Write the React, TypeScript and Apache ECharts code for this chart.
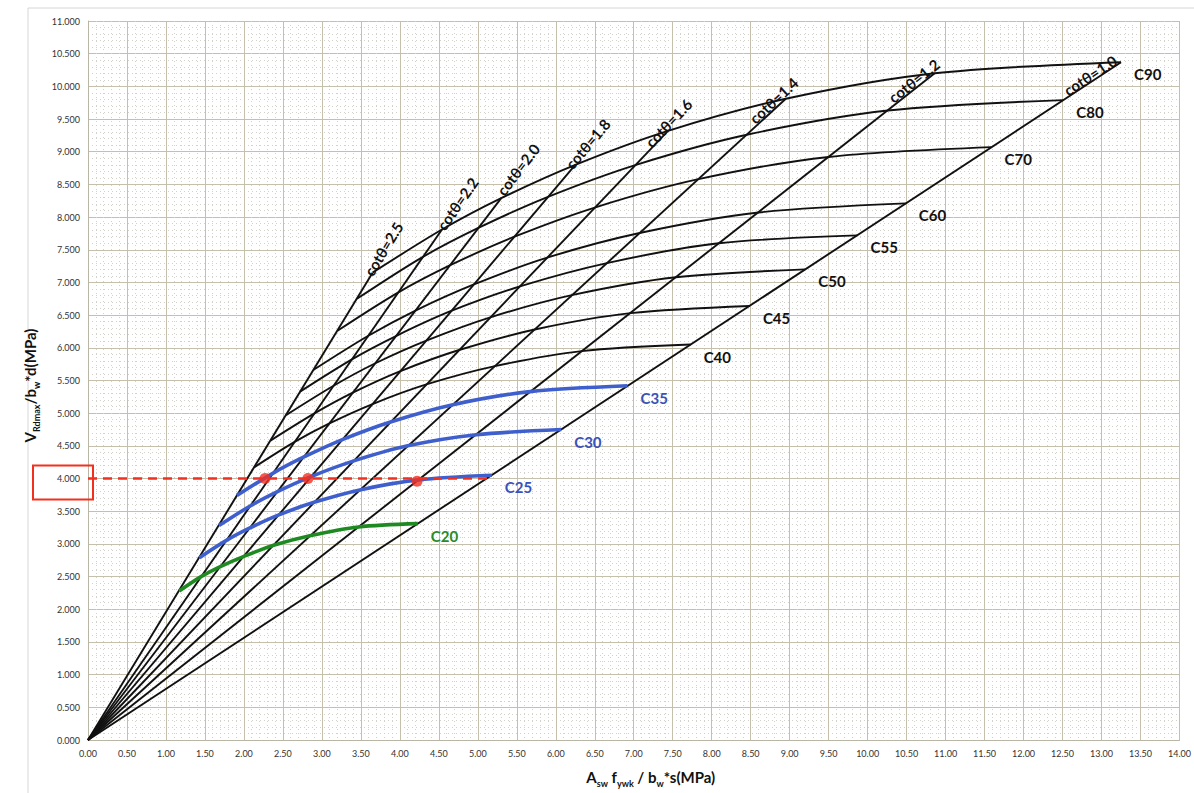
import React, { useEffect, useRef } from "react";
import * as echarts from "echarts";

// cotθ values of the strut-angle lines (left to right along each curve)
const cotThetaValues = [2.5, 2.2, 2.0, 1.8, 1.6, 1.4, 1.2, 1.0];
const cotThetaLabels = ["cotθ=2.5", "cotθ=2.2", "cotθ=2.0", "cotθ=1.8", "cotθ=1.6", "cotθ=1.4", "cotθ=1.2", "cotθ=1.0"];

// concrete class curves: x = Asw fywk/(bw s), y = VRdmax/(bw d), points at cotθ = 2.5 ... 1.0
const c20X = [1.17, 1.45, 1.69, 2.0, 2.38, 2.86, 3.47, 4.23];
const c20Y = [2.28, 2.5, 2.65, 2.81, 2.98, 3.13, 3.26, 3.31];
const c25X = [1.43, 1.77, 2.07, 2.44, 2.91, 3.5, 4.24, 5.18];
const c25Y = [2.79, 3.05, 3.24, 3.44, 3.64, 3.83, 3.98, 4.05];
const c30X = [1.68, 2.08, 2.43, 2.86, 3.41, 4.1, 4.98, 6.07];
const c30Y = [3.28, 3.58, 3.8, 4.03, 4.27, 4.5, 4.67, 4.75];
const c35X = [1.91, 2.37, 2.77, 3.27, 3.89, 4.68, 5.67, 6.92];
const c35Y = [3.74, 4.08, 4.33, 4.6, 4.87, 5.13, 5.33, 5.42];
const c40X = [2.13, 2.65, 3.09, 3.65, 4.34, 5.22, 6.33, 7.73];
const c40Y = [4.17, 4.56, 4.84, 5.14, 5.44, 5.72, 5.95, 6.05];
const c45X = [2.34, 2.91, 3.39, 4.0, 4.77, 5.73, 6.96, 8.49];
const c45Y = [4.58, 5.0, 5.31, 5.64, 5.97, 6.28, 6.53, 6.64];
const c50X = [2.54, 3.15, 3.68, 4.34, 5.17, 6.22, 7.54, 9.2];
const c50Y = [4.97, 5.42, 5.76, 6.11, 6.47, 6.81, 7.08, 7.2];
const c55X = [2.72, 3.38, 3.95, 4.65, 5.54, 6.67, 8.09, 9.87];
const c55Y = [5.33, 5.82, 6.18, 6.56, 6.94, 7.3, 7.6, 7.72];
const c60X = [2.89, 3.59, 4.2, 4.95, 5.89, 7.09, 8.6, 10.49];
const c60Y = [5.66, 6.18, 6.57, 6.97, 7.38, 7.76, 8.07, 8.21];
const c70X = [3.2, 3.97, 4.64, 5.47, 6.51, 7.83, 9.5, 11.59];
const c70Y = [6.26, 6.84, 7.26, 7.7, 8.15, 8.58, 8.92, 9.07];
const c80X = [3.45, 4.28, 5.0, 5.9, 7.03, 8.45, 10.26, 12.51];
const c80Y = [6.75, 7.38, 7.83, 8.31, 8.8, 9.26, 9.63, 9.79];
const c90X = [3.65, 4.54, 5.3, 6.25, 7.44, 8.95, 10.86, 13.25];
const c90Y = [7.15, 7.81, 8.29, 8.8, 9.32, 9.81, 10.2, 10.37];

// worked example (red)
const exampleLevel = [[0, 4.0], [5.17, 4.0]];
const examplePoints = [[2.27, 4.0], [2.82, 4.0], [4.22, 3.96]];

const BLACK = "#111111";
const BLUE = "#3f5fcc";
const BLUE_TXT = "#3a52b8";
const GREEN = "#1f8a22";
const GREEN_TXT = "#2a8a2a";
const RED = "#f2301f";
const FONT = "Lato";

const classes = [
  { name: "C20", xs: c20X, ys: c20Y, color: GREEN, text: GREEN_TXT, width: 3.6 },
  { name: "C25", xs: c25X, ys: c25Y, color: BLUE, text: BLUE_TXT, width: 3.6 },
  { name: "C30", xs: c30X, ys: c30Y, color: BLUE, text: BLUE_TXT, width: 3.6 },
  { name: "C35", xs: c35X, ys: c35Y, color: BLUE, text: BLUE_TXT, width: 3.6 },
  { name: "C40", xs: c40X, ys: c40Y, color: BLACK, text: BLACK, width: 1.9 },
  { name: "C45", xs: c45X, ys: c45Y, color: BLACK, text: BLACK, width: 1.9 },
  { name: "C50", xs: c50X, ys: c50Y, color: BLACK, text: BLACK, width: 1.9 },
  { name: "C55", xs: c55X, ys: c55Y, color: BLACK, text: BLACK, width: 1.9 },
  { name: "C60", xs: c60X, ys: c60Y, color: BLACK, text: BLACK, width: 1.9 },
  { name: "C70", xs: c70X, ys: c70Y, color: BLACK, text: BLACK, width: 1.9 },
  { name: "C80", xs: c80X, ys: c80Y, color: BLACK, text: BLACK, width: 1.9 },
  { name: "C90", xs: c90X, ys: c90Y, color: BLACK, text: BLACK, width: 1.9 },
];

// label placement style: shift along line (px) and perpendicular lift (px)
const cotLabelShift = [26, 30, 33, 24, 6, -10, -21, -33];
const cotLabelLift = [3, 2, 4, 4, 5, 7, 7, 6];

export default function App() {
  const ref = useRef<HTMLDivElement>(null);

  useEffect(() => {
    if (!ref.current) return;
    const chart = echarts.init(ref.current, undefined, { renderer: "svg" });

    const gridLeft = 88;
    const series: any[] = [];

    cotThetaValues.forEach((c, i) => {
      series.push({
        type: "line",
        name: cotThetaLabels[i],
        data: [[0, 0], [c90X[i], c90Y[i]]],
        symbol: "none",
        silent: true,
        lineStyle: { color: BLACK, width: 1.9 },
        z: 3,
      });
    });

    classes.forEach((cl) => {
      series.push({
        type: "line",
        name: cl.name,
        data: cl.xs.map((x, i) => [x, cl.ys[i]]),
        smooth: 0.3,
        symbol: "none",
        silent: true,
        lineStyle: { color: cl.color, width: cl.width },
        z: cl.color === BLACK ? 3 : 4,
        endLabel: {
          show: true,
          formatter: cl.name,
          offset: [5, 12],
          color: cl.text,
          fontFamily: FONT,
          fontWeight: "bold",
          fontSize: 15,
        },
      });
    });

    series.push({
      type: "line",
      name: "example",
      data: exampleLevel,
      symbol: "none",
      silent: true,
      lineStyle: { color: RED, width: 2.6, type: [9, 6] },
      z: 5,
    });
    series.push({
      type: "scatter",
      name: "points",
      data: examplePoints,
      symbol: "circle",
      symbolSize: 11,
      silent: true,
      itemStyle: { color: RED },
      z: 6,
    });

    const rich = {
      m: { fontSize: 15, fontWeight: "bold", fontFamily: FONT, color: "#111" },
      s: { fontSize: 9, fontWeight: "bold", fontFamily: FONT, color: "#111", verticalAlign: "bottom", lineHeight: 22 },
    };

    const option: any = {
      animation: false,
      backgroundColor: "#ffffff",
      grid: { left: gridLeft, right: 14, top: 21, bottom: 53, containLabel: false },
      xAxis: {
        type: "value",
        min: 0,
        max: 14,
        interval: 0.5,
        name: "{m|A}{s|sw}{m| f}{s|ywk}{m| / b}{s|w}{m|*s(MPa)}",
        nameLocation: "middle",
        nameGap: 26,
        nameTextStyle: { rich, padding: [0, 0, 0, 34] },
        axisLine: { show: true, lineStyle: { color: "#b9b6a6", width: 1 } },
        axisTick: { show: false },
        axisLabel: { formatter: (v: number) => v.toFixed(2), fontSize: 9, color: "#333", fontFamily: FONT, margin: 9 },
        splitLine: { show: true, lineStyle: { color: "#c4c0ac", width: 1 } },
        minorTick: { show: false, splitNumber: 5 },
        minorSplitLine: { show: true, lineStyle: { color: "#d2d2ca", width: 1, type: [1, 3] } },
      },
      yAxis: {
        type: "value",
        min: 0,
        max: 11,
        interval: 0.5,
        name: "{m|V}{s|Rdmax}{m|/b}{s|w}{m|*d(MPa)}",
        nameLocation: "middle",
        nameGap: 31,
        nameRotate: 90,
        nameTextStyle: { rich, padding: [0, 10, 0, 0] },
        axisLine: { show: true, lineStyle: { color: "#b9b6a6", width: 1 } },
        axisTick: { show: false },
        axisLabel: { formatter: (v: number) => v.toFixed(3), fontSize: 9, color: "#333", fontFamily: FONT, margin: 8 },
        splitLine: { show: true, lineStyle: { color: "#c4c0ac", width: 1 } },
        minorTick: { show: false, splitNumber: 5 },
        minorSplitLine: { show: true, lineStyle: { color: "#d2d2ca", width: 1, type: [1, 3] } },
      },
      series,
    };
    chart.setOption(option);

    // annotations placed through the chart's own coordinate conversion
    const graphics: any[] = [];
    const origin = chart.convertToPixel({ gridIndex: 0 }, [0, 0]) as number[];
    cotThetaValues.forEach((c, i) => {
      const p = chart.convertToPixel({ gridIndex: 0 }, [c90X[i], c90Y[i]]) as number[];
      const dx = p[0] - origin[0];
      const dy = p[1] - origin[1];
      const len = Math.hypot(dx, dy);
      const ux = dx / len;
      const uy = dy / len;
      const nx = uy; // perpendicular, pointing up-left
      const ny = -ux;
      const s = cotLabelShift[i];
      const h = cotLabelLift[i];
      const cx = p[0] + ux * s + nx * h;
      const cy = p[1] + uy * s + ny * h;
      graphics.push({
        type: "text",
        x: cx,
        y: cy,
        rotation: Math.atan2(-dy, dx),
        silent: true,
        z: 10,
        style: {
          text: cotThetaLabels[i],
          fill: "#111",
          font: `bold 15px ${FONT}`,
          align: "center",
          verticalAlign: "middle",
        },
      });
    });
    const y4 = chart.convertToPixel({ gridIndex: 0 }, [0, 4]) as number[];
    graphics.push({
      type: "rect",
      silent: true,
      z: 10,
      shape: { x: gridLeft - 55, y: y4[1] - 13, width: 60, height: 34 },
      style: { fill: "none", stroke: RED, lineWidth: 2 },
    });
    graphics.push({
      type: "rect",
      silent: true,
      z: -1,
      shape: { x: 28, y: 8, width: 1200, height: 820 },
      style: { fill: "none", stroke: "#d6d6d6", lineWidth: 1 },
    });
    chart.setOption({ graphic: graphics });

    return () => chart.dispose();
  }, []);

  return (
    <div
      ref={ref}
      style={{ position: "fixed", left: 0, top: 0, width: 1194, height: 793, background: "#fff" }}
    />
  );
}
